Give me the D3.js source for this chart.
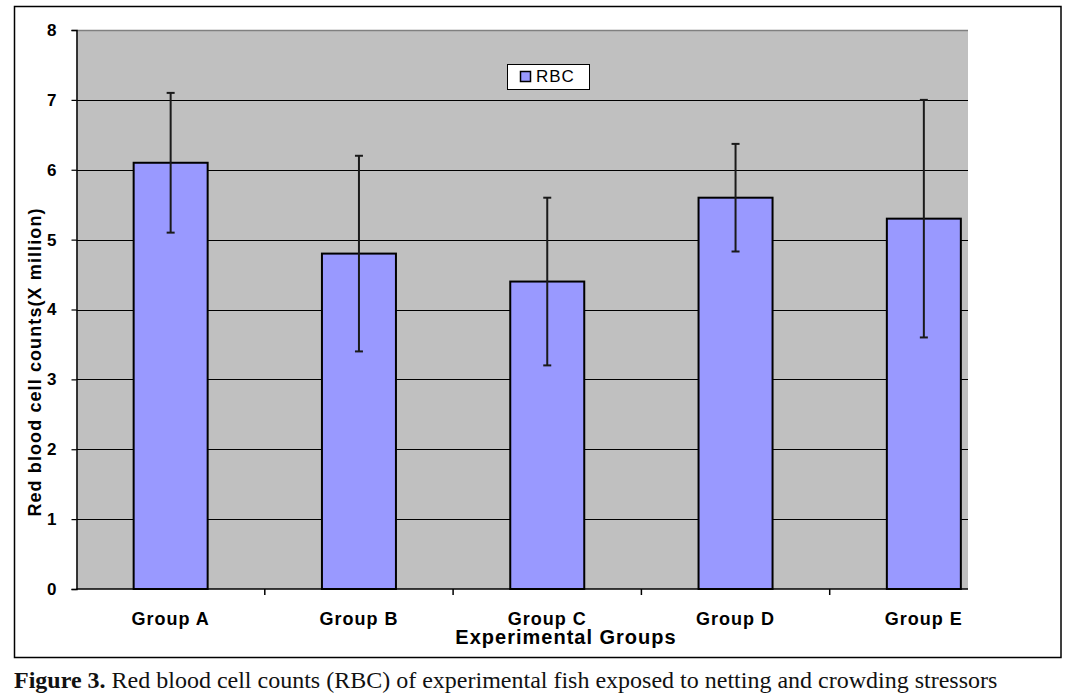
<!DOCTYPE html>
<html>
<head>
<meta charset="utf-8">
<script src="https://cdn.jsdelivr.net/npm/d3@7"></script>
<style>
  html, body { margin: 0; padding: 0; background: #ffffff; }
  svg { display: block; }
</style>
</head>
<body>
<svg id="chart" width="1072" height="699"></svg>
<script>
const categories = ["Group A", "Group B", "Group C", "Group D", "Group E"];
const rbcValues = [6.1, 4.8, 4.4, 5.6, 5.3];
const rbcErrors = [1.0, 1.4, 1.2, 0.77, 1.7];
const yTicks = [0, 1, 2, 3, 4, 5, 6, 7, 8];
const seriesName = "RBC";
const xTitle = "Experimental Groups";
const yTitle = "Red blood cell counts(X million)";
const captionBold = "Figure 3.";
const captionText = " Red blood cell counts (RBC) of experimental fish exposed to netting and crowding stressors";

const svg = d3.select("#chart");
const font = "'Liberation Sans', Arial, sans-serif";

// outer frame
svg.append("rect").attr("x", 14.5).attr("y", 6.5).attr("width", 1046.5).attr("height", 651)
  .attr("fill", "none").attr("stroke", "#000").attr("stroke-width", 1.5);

const plotLeft = 76.5, plotTop = 30, plotBottom = 589, plotRight = 968;
const y = d3.scaleLinear().domain([0, 8]).range([plotBottom, plotTop]);
const x = d3.scaleBand().domain(categories).range([plotLeft, 1018])
  .paddingInner(0.607).paddingOuter(0.3035).align(0.5);
const step = x.step();

// plot background
svg.append("rect").attr("x", plotLeft).attr("y", plotTop)
  .attr("width", plotRight - plotLeft).attr("height", plotBottom - plotTop)
  .attr("fill", "#c0c0c0");
svg.append("line").attr("x1", plotLeft).attr("x2", plotRight)
  .attr("y1", plotTop + 0.5).attr("y2", plotTop + 0.5)
  .attr("stroke", "#808080").attr("stroke-width", 1.5);

// gridlines
svg.append("g").selectAll("line").data(yTicks.filter(d => d > 0 && d < 8)).join("line")
  .attr("x1", plotLeft).attr("x2", plotRight)
  .attr("y1", d => Math.round(y(d)) + 0.5).attr("y2", d => Math.round(y(d)) + 0.5)
  .attr("stroke", "#000").attr("stroke-width", 1);

// y axis
const yAxis = svg.append("g").attr("transform", `translate(${plotLeft},0)`)
  .call(d3.axisLeft(y).tickValues(yTicks).tickSize(5).tickPadding(15).tickFormat(d3.format("d")));
yAxis.select(".domain").attr("stroke", "#000").attr("stroke-width", 1.5);
yAxis.selectAll(".tick line").attr("stroke", "#000").attr("stroke-width", 1.2);
yAxis.selectAll(".tick text").attr("font-family", font).attr("font-weight", "bold")
  .attr("font-size", 17).attr("fill", "#000");

// bars
svg.append("g").selectAll("rect").data(categories).join("rect")
  .attr("x", d => x(d)).attr("y", (d, i) => y(rbcValues[i]))
  .attr("width", x.bandwidth()).attr("height", (d, i) => y(0) - y(rbcValues[i]))
  .attr("fill", "#9999ff").attr("stroke", "#000").attr("stroke-width", 2);

// x axis line
svg.append("line").attr("x1", plotLeft).attr("x2", plotRight)
  .attr("y1", plotBottom).attr("y2", plotBottom).attr("stroke", "#000").attr("stroke-width", 1.5);
// boundary ticks
svg.append("g").selectAll("line").data(categories.slice(1)).join("line")
  .attr("x1", d => x(d) - x.paddingOuter() * step).attr("x2", d => x(d) - x.paddingOuter() * step)
  .attr("y1", plotBottom).attr("y2", plotBottom + 6)
  .attr("stroke", "#000").attr("stroke-width", 1.5);

// error bars
const eb = svg.append("g").attr("stroke", "#1a1a1a").attr("stroke-width", 2);
categories.forEach((c, i) => {
  const cx = x(c) + x.bandwidth() / 2;
  const hi = y(rbcValues[i] + rbcErrors[i]), lo = y(rbcValues[i] - rbcErrors[i]);
  eb.append("line").attr("x1", cx).attr("x2", cx).attr("y1", hi).attr("y2", lo);
  eb.append("line").attr("x1", cx - 4).attr("x2", cx + 4).attr("y1", hi).attr("y2", hi);
  eb.append("line").attr("x1", cx - 4).attr("x2", cx + 4).attr("y1", lo).attr("y2", lo);
});

// category labels
svg.append("g").selectAll("text").data(categories).join("text")
  .attr("x", d => x(d) + x.bandwidth() / 2).attr("y", 625)
  .attr("text-anchor", "middle").attr("font-family", font).attr("font-weight", "bold")
  .attr("font-size", 18).attr("letter-spacing", 1).attr("fill", "#000").text(d => d);

// axis titles
svg.append("text").attr("x", 566).attr("y", 644).attr("text-anchor", "middle")
  .attr("font-family", font).attr("font-weight", "bold").attr("font-size", 20)
  .attr("letter-spacing", 1).attr("fill", "#000").text(xTitle);
svg.append("text").attr("transform", "translate(41,362) rotate(-90)").attr("text-anchor", "middle")
  .attr("font-family", font).attr("font-weight", "bold").attr("font-size", 18)
  .attr("letter-spacing", 1.1).attr("fill", "#000").text(yTitle);

// legend
const lg = svg.append("g");
lg.append("rect").attr("x", 507.5).attr("y", 64.5).attr("width", 82).attr("height", 25)
  .attr("fill", "#fff").attr("stroke", "#000").attr("stroke-width", 1);
lg.append("rect").attr("x", 520.5).attr("y", 71.5).attr("width", 10).attr("height", 10)
  .attr("fill", "#9999ff").attr("stroke", "#000").attr("stroke-width", 1.5);
lg.append("text").attr("x", 536).attr("y", 82).attr("font-family", font).attr("font-size", 17)
  .attr("letter-spacing", 1).attr("fill", "#000").text(seriesName);

// caption
const cap = svg.append("text").attr("x", 14).attr("y", 688)
  .attr("font-family", "'Liberation Serif', 'Times New Roman', serif").attr("font-size", 24).attr("fill", "#111");
cap.append("tspan").attr("font-weight", "bold").text(captionBold);
cap.append("tspan").text(captionText);
</script>
</body>
</html>
